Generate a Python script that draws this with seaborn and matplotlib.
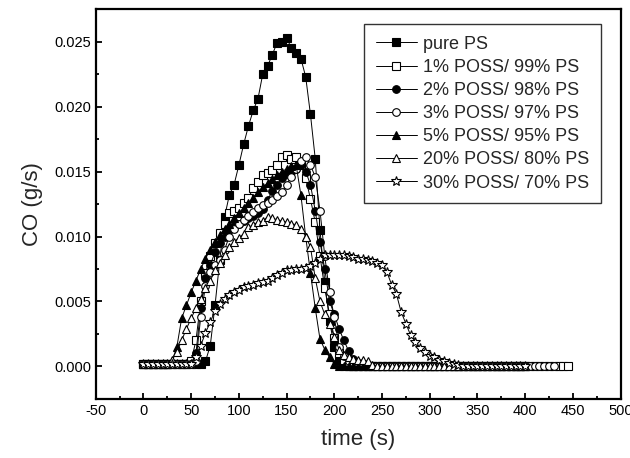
import numpy as np
import pandas as pd
import matplotlib
matplotlib.use("Agg")
import matplotlib.pyplot as plt
from matplotlib.ticker import MultipleLocator, FormatStrFormatter
import seaborn as sns

# CO release rate (g/s), sampled every 5 s starting at t = 0
step = 5

pure_ps = [
    0.0002, 0.0002, 0.0002, 0.0002, 0.0002, 0.0002, 0.0002, 0.0002, 0.0002, 0.0002,
    0.0002, 0.0002, 0.0002, 0.0004, 0.0016, 0.0047, 0.0082, 0.0115, 0.0132, 0.0140,
    0.0155, 0.0171, 0.0185, 0.0197, 0.0206, 0.0225, 0.0231, 0.0240, 0.0249, 0.0250,
    0.0253, 0.0245, 0.0241, 0.0237, 0.0223, 0.0194, 0.0160, 0.0105, 0.0065, 0.0035,
    0.0015, 0.0005, 0.0001, 0, 0, 0, 0, 0, 0, 0,
    0, 0, 0, 0, 0, 0, 0, 0, 0, 0,
    0, 0, 0, 0, 0, 0, 0, 0, 0, 0,
    0, 0, 0, 0, 0, 0, 0, 0, 0, 0,
    0,
]
poss_1 = [
    0.0002, 0.0002, 0.0002, 0.0002, 0.0002, 0.0002, 0.0002, 0.0002, 0.0002, 0.0002,
    0.0004, 0.0020, 0.0050, 0.0072, 0.0085, 0.0095, 0.0103, 0.0110, 0.0118, 0.0120,
    0.0122, 0.0126, 0.0130, 0.0137, 0.0142, 0.0147, 0.0149, 0.0151, 0.0155, 0.0161,
    0.0163, 0.0160, 0.0161, 0.0155, 0.0145, 0.0129, 0.0111, 0.0085, 0.0060, 0.0040,
    0.0022, 0.0010, 0.0005, 0.0002, 0, 0, 0, 0, 0, 0,
    0, 0, 0, 0, 0, 0, 0, 0, 0, 0,
    0, 0, 0, 0, 0, 0, 0, 0, 0, 0,
    0, 0, 0, 0, 0, 0, 0, 0, 0, 0,
    0, 0, 0, 0, 0, 0, 0, 0, 0, 0,
]
poss_2 = [
    0.0002, 0.0002, 0.0002, 0.0002, 0.0002, 0.0002, 0.0002, 0.0002, 0.0002, 0.0002,
    0.0002, 0.0010, 0.0045, 0.0068, 0.0078, 0.0088, 0.0095, 0.0100, 0.0105, 0.0108,
    0.0110, 0.0112, 0.0114, 0.0116, 0.0118, 0.0121, 0.0128, 0.0135, 0.0140, 0.0145,
    0.0148, 0.0150, 0.0152, 0.0155, 0.0150, 0.0140, 0.0120, 0.0096, 0.0075, 0.0050,
    0.0040, 0.0029, 0.0020, 0.0012, 0.0006, 0.0002, 0, 0, 0, 0,
    0, 0, 0, 0, 0, 0, 0, 0, 0, 0,
    0, 0, 0, 0, 0, 0, 0, 0, 0, 0,
    0, 0, 0, 0, 0, 0, 0, 0, 0, 0,
    0,
]
poss_3 = [
    0.0002, 0.0002, 0.0002, 0.0002, 0.0002, 0.0002, 0.0002, 0.0002, 0.0002, 0.0002,
    0.0002, 0.0004, 0.0038, 0.0062, 0.0073, 0.0078, 0.0082, 0.0090, 0.0100, 0.0106,
    0.0110, 0.0113, 0.0116, 0.0119, 0.0122, 0.0124, 0.0126, 0.0128, 0.0131, 0.0134,
    0.0140, 0.0146, 0.0152, 0.0158, 0.0161, 0.0155, 0.0146, 0.0120, 0.0085, 0.0057,
    0.0038, 0.0015, 0.0008, 0.0004, 0.0001, 0, 0, 0, 0, 0,
    0, 0, 0, 0, 0, 0, 0, 0, 0, 0,
    0, 0, 0, 0, 0, 0, 0, 0, 0, 0,
    0, 0, 0, 0, 0, 0, 0, 0, 0, 0,
    0, 0, 0, 0, 0, 0, 0,
]
poss_5 = [
    0.0002, 0.0002, 0.0002, 0.0002, 0.0002, 0.0002, 0.0004, 0.0015, 0.0037, 0.0047,
    0.0057, 0.0066, 0.0075, 0.0083, 0.0090, 0.0096, 0.0101, 0.0106, 0.0110, 0.0114,
    0.0118, 0.0122, 0.0126, 0.0130, 0.0134, 0.0138, 0.0141, 0.0144, 0.0147, 0.0150,
    0.0152, 0.0154, 0.0155, 0.0132, 0.0100, 0.0072, 0.0045, 0.0021, 0.0013, 0.0007,
    0.0002, 0, 0, 0, 0, 0, 0, 0, 0, 0,
    0, 0, 0, 0, 0, 0, 0, 0, 0, 0,
    0, 0, 0, 0, 0, 0, 0, 0, 0, 0,
    0, 0, 0, 0, 0, 0, 0, 0, 0, 0,
    0,
]
poss_20 = [
    0.0002, 0.0002, 0.0002, 0.0002, 0.0002, 0.0002, 0.0005, 0.0011, 0.0020, 0.0029,
    0.0037, 0.0045, 0.0052, 0.0060, 0.0066, 0.0074, 0.0080, 0.0086, 0.0092, 0.0096,
    0.0099, 0.0102, 0.0107, 0.0109, 0.0111, 0.0112, 0.0115, 0.0114, 0.0113, 0.0112,
    0.0111, 0.0110, 0.0109, 0.0106, 0.0100, 0.0092, 0.0068, 0.0050, 0.0040, 0.0033,
    0.0023, 0.0013, 0.0009, 0.0007, 0.0006, 0.0005, 0.0005, 0.0004, 0.0001, 0,
    0, 0, 0, 0, 0, 0, 0, 0, 0, 0,
    0, 0, 0, 0, 0, 0, 0, 0, 0, 0,
    0, 0, 0, 0, 0, 0, 0, 0, 0, 0,
    0,
]
poss_30 = [
    0.0002, 0.0002, 0.0002, 0.0002, 0.0002, 0.0002, 0.0002, 0.0002, 0.0002, 0.0002,
    0.0002, 0.0007, 0.0016, 0.0026, 0.0034, 0.0043, 0.0048, 0.0052, 0.0055, 0.0057,
    0.0059, 0.0061, 0.0062, 0.0063, 0.0064, 0.0065, 0.0066, 0.0068, 0.0070, 0.0072,
    0.0074, 0.0074, 0.0075, 0.0075, 0.0076, 0.0077, 0.0080, 0.0083, 0.0086, 0.0086,
    0.0086, 0.0086, 0.0086, 0.0085, 0.0084, 0.0083, 0.0083, 0.0082, 0.0081, 0.0080,
    0.0078, 0.0073, 0.0063, 0.0056, 0.0042, 0.0033, 0.0024, 0.0019, 0.0014, 0.0011,
    0.0008, 0.0007, 0.0005, 0.0004, 0.0003, 0.0002, 0.0001, 0, 0, 0,
    0, 0, 0, 0, 0, 0, 0, 0, 0, 0,
    0,
]

labels = ["pure PS", "1% POSS/ 99% PS", "2% POSS/ 98% PS", "3% POSS/ 97% PS",
          "5% POSS/ 95% PS", "20% POSS/ 80% PS", "30% POSS/ 70% PS"]
series = [pure_ps, poss_1, poss_2, poss_3, poss_5, poss_20, poss_30]
# marker, filled?, size
marker_style = [("s", True, 5.5), ("s", False, 5.5), ("o", True, 5.5), ("o", False, 5.5),
                ("^", True, 6.0), ("^", False, 6.0), ("*", False, 7.5)]

sns.set_style("ticks")
plt.rcParams["font.family"] = ["Liberation Sans", "DejaVu Sans"]
plt.rcParams["axes.unicode_minus"] = False

fig = plt.figure(figsize=(6.3, 4.58), dpi=100)
ax = fig.add_axes([0.152, 0.129, 0.833, 0.851])

for vals, lab, (mk, filled, ms) in zip(series, labels, marker_style):
    t = np.arange(len(vals)) * step
    df = pd.DataFrame({"time": t, "co": vals})
    sns.lineplot(data=df, x="time", y="co", ax=ax, color="black", linewidth=0.7,
                 marker=mk, markersize=ms, markeredgecolor="black",
                 markerfacecolor="black" if filled else "white",
                 markeredgewidth=0.8, label=lab, errorbar=None)

ax.set_xlim(-50, 500)
ax.set_ylim(-0.0025, 0.0275)
ax.xaxis.set_major_locator(MultipleLocator(50))
ax.xaxis.set_minor_locator(MultipleLocator(25))
ax.yaxis.set_major_locator(MultipleLocator(0.005))
ax.yaxis.set_minor_locator(MultipleLocator(0.0025))
ax.yaxis.set_major_formatter(FormatStrFormatter("%.3f"))
ax.tick_params(which="both", direction="in", top=False, right=False,
               labelsize=10.5, width=1.3, colors="black")
ax.tick_params(which="major", length=4.5)
ax.tick_params(which="minor", length=2.5)
for sp in ax.spines.values():
    sp.set_linewidth(1.6)
    sp.set_color("black")

ax.set_xlabel("time (s)", fontsize=16, labelpad=8)
ax.set_ylabel("CO (g/s)", fontsize=16, labelpad=8)

leg = ax.legend(loc="upper left", bbox_to_anchor=(0.511, 0.962), borderaxespad=0,
                fontsize=13, frameon=True, fancybox=False, edgecolor="black",
                labelspacing=0.34, handlelength=2.3, handletextpad=0.3,
                borderpad=0.65)
leg.get_frame().set_linewidth(1.0)

fig.savefig("out.png", dpi=100)
